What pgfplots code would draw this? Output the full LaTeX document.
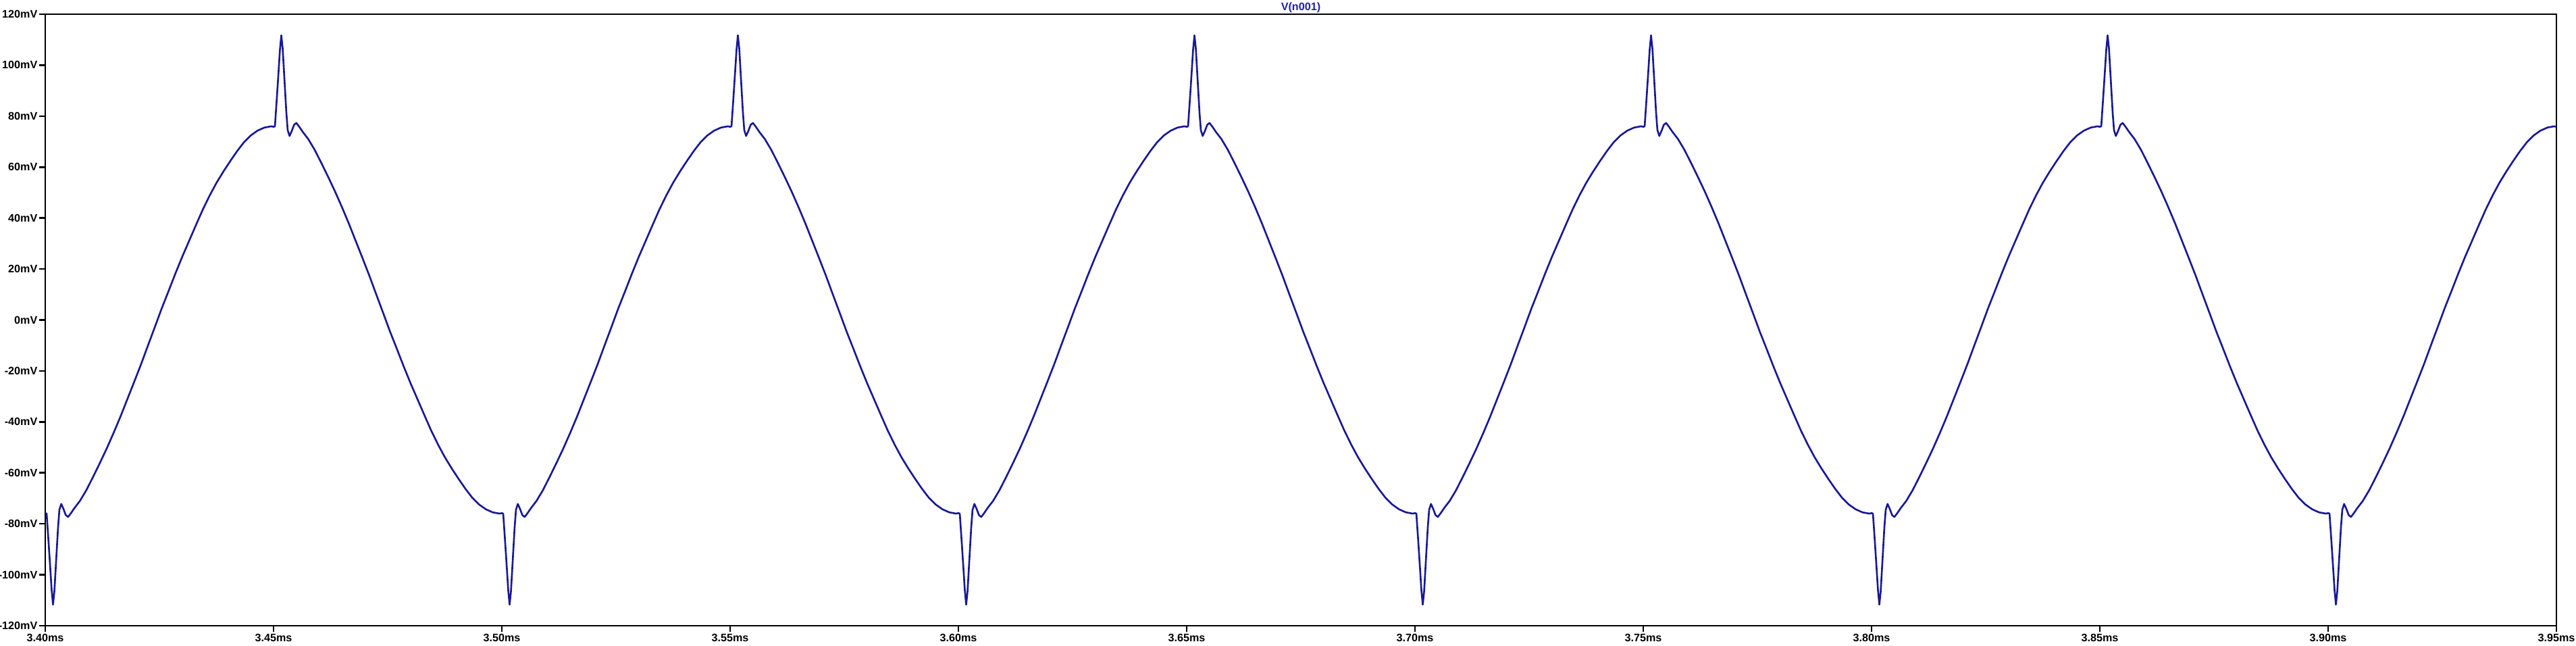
\documentclass[border=0pt]{standalone}
\usepackage{fontspec}
\setmainfont{Liberation Sans}
\usepackage{pgfplots}
\pgfplotsset{compat=1.18}
\definecolor{trace}{RGB}{24,24,150}
\definecolor{ttl}{RGB}{32,32,170}
\begin{document}
\begin{tikzpicture}
\begin{axis}[
  scale only axis,
  width=371.8mm, height=90.5mm,
  xmin=3.40, xmax=3.95, ymin=-120, ymax=120,
  axis line style={line width=0.75pt, black},
  every tick/.style={line width=0.75pt, black},
  tick align=outside,
  major tick length=0.9mm,
  xtick pos=bottom, ytick pos=left,
  xtick={3.40,3.45,3.50,3.55,3.60,3.65,3.70,3.75,3.80,3.85,3.90,3.95},
  xticklabels={3.40ms,3.45ms,3.50ms,3.55ms,3.60ms,3.65ms,3.70ms,3.75ms,3.80ms,3.85ms,3.90ms,3.95ms},
  ytick={-120,-100,-80,-60,-40,-20,0,20,40,60,80,100,120},
  yticklabels={-120mV,-100mV,-80mV,-60mV,-40mV,-20mV,0mV,20mV,40mV,60mV,80mV,100mV,120mV},
  tick label style={font=\fontsize{4.6}{5}\selectfont\bfseries},
  yticklabel style={inner sep=0.2mm},
  xticklabel style={inner sep=0.3mm},
  clip=true,
]
\addplot[trace, line width=0.75pt, line join=round] coordinates {
(3.4000,-75.8)(3.4003,-76.0)(3.4007,-86.5)(3.4011,-97.5)(3.4014,-106.0)(3.4017,-111.7)(3.4020,-106.5)(3.4024,-94.0)(3.4028,-81.5)(3.4031,-74.5)(3.4035,-72.2)(3.4040,-74.2)(3.4045,-76.6)(3.4050,-77.3)(3.4056,-75.9)(3.4064,-73.8)(3.4076,-71.0)(3.4090,-66.8)(3.4105,-61.5)(3.4120,-56.0)(3.4135,-50.3)(3.4150,-44.2)(3.4165,-37.8)(3.4180,-31.0)(3.4195,-24.2)(3.4210,-17.3)(3.4225,-10.0)(3.4240,-2.8)(3.4255,4.5)(3.4270,11.3)(3.4285,18.2)(3.4300,24.8)(3.4315,31.0)(3.4330,37.2)(3.4345,43.3)(3.4360,48.8)(3.4375,53.8)(3.4390,58.2)(3.4405,62.3)(3.4420,66.2)(3.4435,69.7)(3.4450,72.4)(3.4465,74.3)(3.4480,75.5)(3.4495,76.0)
(3.4500,75.8)(3.4503,76.0)(3.4507,86.5)(3.4511,97.5)(3.4514,106.0)(3.4517,111.7)(3.4520,106.5)(3.4524,94.0)(3.4528,81.5)(3.4531,74.5)(3.4535,72.2)(3.4540,74.2)(3.4545,76.6)(3.4550,77.3)(3.4556,75.9)(3.4564,73.8)(3.4576,71.0)(3.4590,66.8)(3.4605,61.5)(3.4620,56.0)(3.4635,50.3)(3.4650,44.2)(3.4665,37.8)(3.4680,31.0)(3.4695,24.2)(3.4710,17.3)(3.4725,10.0)(3.4740,2.8)(3.4755,-4.5)(3.4770,-11.3)(3.4785,-18.2)(3.4800,-24.8)(3.4815,-31.0)(3.4830,-37.2)(3.4845,-43.3)(3.4860,-48.8)(3.4875,-53.8)(3.4890,-58.2)(3.4905,-62.3)(3.4920,-66.2)(3.4935,-69.7)(3.4950,-72.4)(3.4965,-74.3)(3.4980,-75.5)(3.4995,-76.0)
(3.5000,-75.8)(3.5003,-76.0)(3.5007,-86.5)(3.5011,-97.5)(3.5014,-106.0)(3.5017,-111.7)(3.5020,-106.5)(3.5024,-94.0)(3.5028,-81.5)(3.5031,-74.5)(3.5035,-72.2)(3.5040,-74.2)(3.5045,-76.6)(3.5050,-77.3)(3.5056,-75.9)(3.5064,-73.8)(3.5076,-71.0)(3.5090,-66.8)(3.5105,-61.5)(3.5120,-56.0)(3.5135,-50.3)(3.5150,-44.2)(3.5165,-37.8)(3.5180,-31.0)(3.5195,-24.2)(3.5210,-17.3)(3.5225,-10.0)(3.5240,-2.8)(3.5255,4.5)(3.5270,11.3)(3.5285,18.2)(3.5300,24.8)(3.5315,31.0)(3.5330,37.2)(3.5345,43.3)(3.5360,48.8)(3.5375,53.8)(3.5390,58.2)(3.5405,62.3)(3.5420,66.2)(3.5435,69.7)(3.5450,72.4)(3.5465,74.3)(3.5480,75.5)(3.5495,76.0)
(3.5500,75.8)(3.5503,76.0)(3.5507,86.5)(3.5511,97.5)(3.5514,106.0)(3.5517,111.7)(3.5520,106.5)(3.5524,94.0)(3.5528,81.5)(3.5531,74.5)(3.5535,72.2)(3.5540,74.2)(3.5545,76.6)(3.5550,77.3)(3.5556,75.9)(3.5564,73.8)(3.5576,71.0)(3.5590,66.8)(3.5605,61.5)(3.5620,56.0)(3.5635,50.3)(3.5650,44.2)(3.5665,37.8)(3.5680,31.0)(3.5695,24.2)(3.5710,17.3)(3.5725,10.0)(3.5740,2.8)(3.5755,-4.5)(3.5770,-11.3)(3.5785,-18.2)(3.5800,-24.8)(3.5815,-31.0)(3.5830,-37.2)(3.5845,-43.3)(3.5860,-48.8)(3.5875,-53.8)(3.5890,-58.2)(3.5905,-62.3)(3.5920,-66.2)(3.5935,-69.7)(3.5950,-72.4)(3.5965,-74.3)(3.5980,-75.5)(3.5995,-76.0)
(3.6000,-75.8)(3.6003,-76.0)(3.6007,-86.5)(3.6011,-97.5)(3.6014,-106.0)(3.6017,-111.7)(3.6020,-106.5)(3.6024,-94.0)(3.6028,-81.5)(3.6031,-74.5)(3.6035,-72.2)(3.6040,-74.2)(3.6045,-76.6)(3.6050,-77.3)(3.6056,-75.9)(3.6064,-73.8)(3.6076,-71.0)(3.6090,-66.8)(3.6105,-61.5)(3.6120,-56.0)(3.6135,-50.3)(3.6150,-44.2)(3.6165,-37.8)(3.6180,-31.0)(3.6195,-24.2)(3.6210,-17.3)(3.6225,-10.0)(3.6240,-2.8)(3.6255,4.5)(3.6270,11.3)(3.6285,18.2)(3.6300,24.8)(3.6315,31.0)(3.6330,37.2)(3.6345,43.3)(3.6360,48.8)(3.6375,53.8)(3.6390,58.2)(3.6405,62.3)(3.6420,66.2)(3.6435,69.7)(3.6450,72.4)(3.6465,74.3)(3.6480,75.5)(3.6495,76.0)
(3.6500,75.8)(3.6503,76.0)(3.6507,86.5)(3.6511,97.5)(3.6514,106.0)(3.6517,111.7)(3.6520,106.5)(3.6524,94.0)(3.6528,81.5)(3.6531,74.5)(3.6535,72.2)(3.6540,74.2)(3.6545,76.6)(3.6550,77.3)(3.6556,75.9)(3.6564,73.8)(3.6576,71.0)(3.6590,66.8)(3.6605,61.5)(3.6620,56.0)(3.6635,50.3)(3.6650,44.2)(3.6665,37.8)(3.6680,31.0)(3.6695,24.2)(3.6710,17.3)(3.6725,10.0)(3.6740,2.8)(3.6755,-4.5)(3.6770,-11.3)(3.6785,-18.2)(3.6800,-24.8)(3.6815,-31.0)(3.6830,-37.2)(3.6845,-43.3)(3.6860,-48.8)(3.6875,-53.8)(3.6890,-58.2)(3.6905,-62.3)(3.6920,-66.2)(3.6935,-69.7)(3.6950,-72.4)(3.6965,-74.3)(3.6980,-75.5)(3.6995,-76.0)
(3.7000,-75.8)(3.7003,-76.0)(3.7007,-86.5)(3.7011,-97.5)(3.7014,-106.0)(3.7017,-111.7)(3.7020,-106.5)(3.7024,-94.0)(3.7028,-81.5)(3.7031,-74.5)(3.7035,-72.2)(3.7040,-74.2)(3.7045,-76.6)(3.7050,-77.3)(3.7056,-75.9)(3.7064,-73.8)(3.7076,-71.0)(3.7090,-66.8)(3.7105,-61.5)(3.7120,-56.0)(3.7135,-50.3)(3.7150,-44.2)(3.7165,-37.8)(3.7180,-31.0)(3.7195,-24.2)(3.7210,-17.3)(3.7225,-10.0)(3.7240,-2.8)(3.7255,4.5)(3.7270,11.3)(3.7285,18.2)(3.7300,24.8)(3.7315,31.0)(3.7330,37.2)(3.7345,43.3)(3.7360,48.8)(3.7375,53.8)(3.7390,58.2)(3.7405,62.3)(3.7420,66.2)(3.7435,69.7)(3.7450,72.4)(3.7465,74.3)(3.7480,75.5)(3.7495,76.0)
(3.7500,75.8)(3.7503,76.0)(3.7507,86.5)(3.7511,97.5)(3.7514,106.0)(3.7517,111.7)(3.7520,106.5)(3.7524,94.0)(3.7528,81.5)(3.7531,74.5)(3.7535,72.2)(3.7540,74.2)(3.7545,76.6)(3.7550,77.3)(3.7556,75.9)(3.7564,73.8)(3.7576,71.0)(3.7590,66.8)(3.7605,61.5)(3.7620,56.0)(3.7635,50.3)(3.7650,44.2)(3.7665,37.8)(3.7680,31.0)(3.7695,24.2)(3.7710,17.3)(3.7725,10.0)(3.7740,2.8)(3.7755,-4.5)(3.7770,-11.3)(3.7785,-18.2)(3.7800,-24.8)(3.7815,-31.0)(3.7830,-37.2)(3.7845,-43.3)(3.7860,-48.8)(3.7875,-53.8)(3.7890,-58.2)(3.7905,-62.3)(3.7920,-66.2)(3.7935,-69.7)(3.7950,-72.4)(3.7965,-74.3)(3.7980,-75.5)(3.7995,-76.0)
(3.8000,-75.8)(3.8003,-76.0)(3.8007,-86.5)(3.8011,-97.5)(3.8014,-106.0)(3.8017,-111.7)(3.8020,-106.5)(3.8024,-94.0)(3.8028,-81.5)(3.8031,-74.5)(3.8035,-72.2)(3.8040,-74.2)(3.8045,-76.6)(3.8050,-77.3)(3.8056,-75.9)(3.8064,-73.8)(3.8076,-71.0)(3.8090,-66.8)(3.8105,-61.5)(3.8120,-56.0)(3.8135,-50.3)(3.8150,-44.2)(3.8165,-37.8)(3.8180,-31.0)(3.8195,-24.2)(3.8210,-17.3)(3.8225,-10.0)(3.8240,-2.8)(3.8255,4.5)(3.8270,11.3)(3.8285,18.2)(3.8300,24.8)(3.8315,31.0)(3.8330,37.2)(3.8345,43.3)(3.8360,48.8)(3.8375,53.8)(3.8390,58.2)(3.8405,62.3)(3.8420,66.2)(3.8435,69.7)(3.8450,72.4)(3.8465,74.3)(3.8480,75.5)(3.8495,76.0)
(3.8500,75.8)(3.8503,76.0)(3.8507,86.5)(3.8511,97.5)(3.8514,106.0)(3.8517,111.7)(3.8520,106.5)(3.8524,94.0)(3.8528,81.5)(3.8531,74.5)(3.8535,72.2)(3.8540,74.2)(3.8545,76.6)(3.8550,77.3)(3.8556,75.9)(3.8564,73.8)(3.8576,71.0)(3.8590,66.8)(3.8605,61.5)(3.8620,56.0)(3.8635,50.3)(3.8650,44.2)(3.8665,37.8)(3.8680,31.0)(3.8695,24.2)(3.8710,17.3)(3.8725,10.0)(3.8740,2.8)(3.8755,-4.5)(3.8770,-11.3)(3.8785,-18.2)(3.8800,-24.8)(3.8815,-31.0)(3.8830,-37.2)(3.8845,-43.3)(3.8860,-48.8)(3.8875,-53.8)(3.8890,-58.2)(3.8905,-62.3)(3.8920,-66.2)(3.8935,-69.7)(3.8950,-72.4)(3.8965,-74.3)(3.8980,-75.5)(3.8995,-76.0)
(3.9000,-75.8)(3.9003,-76.0)(3.9007,-86.5)(3.9011,-97.5)(3.9014,-106.0)(3.9017,-111.7)(3.9020,-106.5)(3.9024,-94.0)(3.9028,-81.5)(3.9031,-74.5)(3.9035,-72.2)(3.9040,-74.2)(3.9045,-76.6)(3.9050,-77.3)(3.9056,-75.9)(3.9064,-73.8)(3.9076,-71.0)(3.9090,-66.8)(3.9105,-61.5)(3.9120,-56.0)(3.9135,-50.3)(3.9150,-44.2)(3.9165,-37.8)(3.9180,-31.0)(3.9195,-24.2)(3.9210,-17.3)(3.9225,-10.0)(3.9240,-2.8)(3.9255,4.5)(3.9270,11.3)(3.9285,18.2)(3.9300,24.8)(3.9315,31.0)(3.9330,37.2)(3.9345,43.3)(3.9360,48.8)(3.9375,53.8)(3.9390,58.2)(3.9405,62.3)(3.9420,66.2)(3.9435,69.7)(3.9450,72.4)(3.9465,74.3)(3.9480,75.5)(3.9495,76.0)
(3.9500,75.8)
};
\end{axis}
\node[anchor=base, inner sep=0pt, yshift=0.55mm, text=ttl, font=\fontsize{4.6}{5}\selectfont\bfseries] at (current axis.north) {V(n001)};
\pgfresetboundingbox
\path[use as bounding box] ([xshift=-6.7mm,yshift=-3.0mm]current axis.south west) rectangle ([xshift=2.9mm,yshift=2.1mm]current axis.north east);
\end{tikzpicture}
\end{document}
